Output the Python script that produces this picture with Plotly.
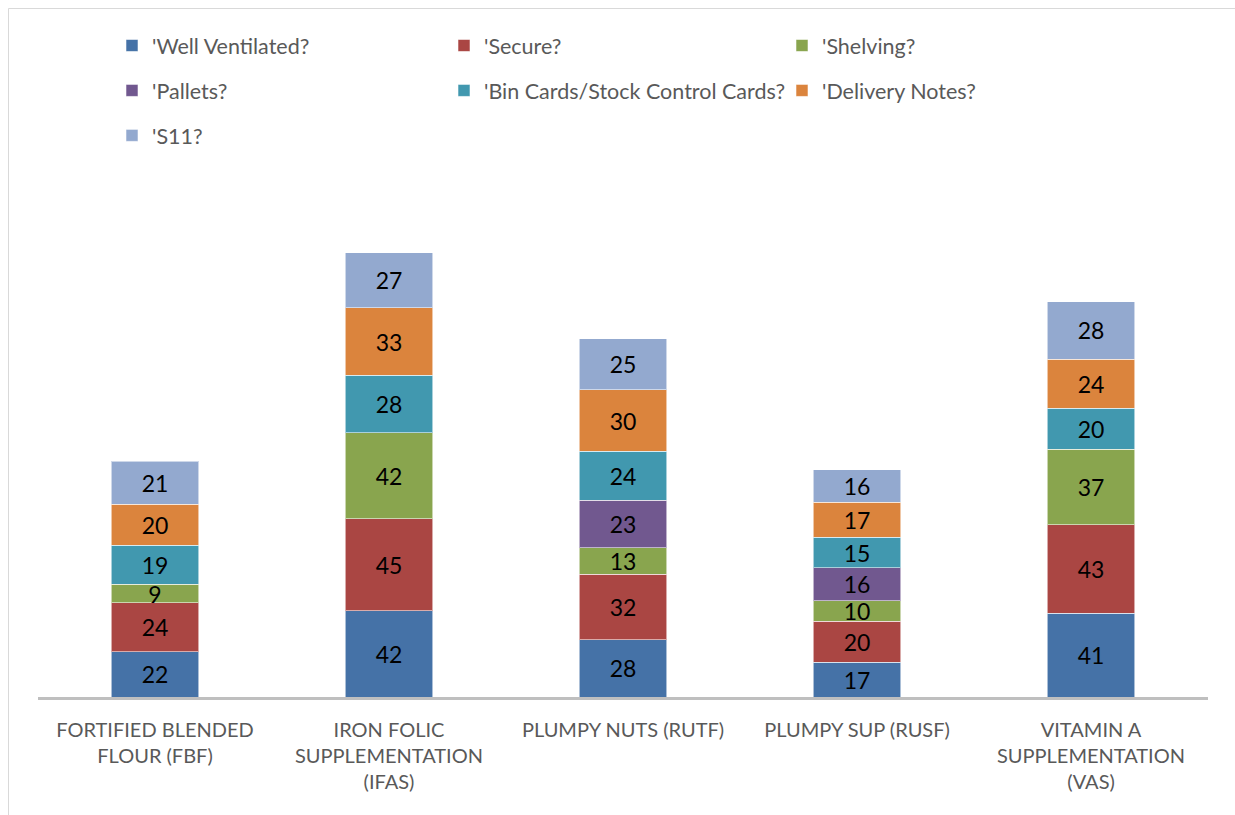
import plotly.graph_objects as go

# Store inspection results per commodity
categories = [
    "FORTIFIED BLENDED<br>FLOUR (FBF)",
    "IRON FOLIC<br>SUPPLEMENTATION<br>(IFAS)",
    "PLUMPY NUTS (RUTF)",
    "PLUMPY SUP (RUSF)",
    "VITAMIN A<br>SUPPLEMENTATION<br>(VAS)",
]

well_ventilated = [22, 42, 28, 17, 41]
secure = [24, 45, 32, 20, 43]
shelving = [9, 42, 13, 10, 37]
pallets = [None, None, 23, 16, None]
bin_cards = [19, 28, 24, 15, 20]
delivery_notes = [20, 33, 30, 17, 24]
s11 = [21, 27, 25, 16, 28]

series = [
    ("'Well Ventilated?", well_ventilated, "#4572A7", "legend"),
    ("'Secure?", secure, "#AA4643", "legend2"),
    ("'Shelving?", shelving, "#89A54E", "legend3"),
    ("'Pallets?", pallets, "#71588F", "legend"),
    ("'Bin Cards/Stock Control Cards?", bin_cards, "#4198AF", "legend2"),
    ("'Delivery Notes?", delivery_notes, "#DB843D", "legend3"),
    ("'S11?", s11, "#93A9CF", "legend"),
]

FONT = "Lato, 'Open Sans', sans-serif"
GREY = "#595959"

fig = go.Figure()
for i, (name, vals, color, leg) in enumerate(series):
    fig.add_trace(go.Bar(
        name=name,
        x=categories,
        y=vals,
        marker=dict(color=color, line=dict(color="rgba(255,255,255,0.55)", width=1)),
        text=vals,
        texttemplate="%{y}",
        textposition="inside",
        insidetextanchor="middle",
        textangle=0,
        textfont=dict(family=FONT, size=23, color="black"),
        legend=leg,
        legendgroup=f"g{i}",
    ))

leg_common = dict(
    orientation="v",
    font=dict(family=FONT, size=21.5, color=GREY),
    bgcolor="rgba(0,0,0,0)",
    tracegroupgap=14,
    xanchor="left",
    yanchor="top",
    traceorder="grouped",
)

fig.update_layout(
    width=1235,
    height=815,
    margin=dict(l=38, r=27, t=185, b=118),
    paper_bgcolor="white",
    plot_bgcolor="white",
    barmode="stack",
    bargap=0.624,
    uniformtext=dict(minsize=23, mode="show"),
    font=dict(family=FONT, color=GREY),
    legend=dict(x=(112 - 38) / 1170, y=(697 - 25) / 512, **leg_common),
    legend2=dict(x=(444 - 38) / 1170, y=(697 - 25) / 512, **leg_common),
    legend3=dict(x=(782 - 38) / 1170, y=(697 - 25) / 512, **leg_common),
    xaxis=dict(
        showline=True,
        linecolor="#BFBFBF",
        linewidth=3,
        ticks="",
        showgrid=False,
        tickfont=dict(family=FONT, size=20, color=GREY),
        ticklabelstandoff=13,
    ),
    yaxis=dict(
        range=[0, 250],
        visible=False,
        showgrid=False,
        zeroline=False,
    ),
    shapes=[dict(
        type="rect",
        xref="paper", yref="paper",
        x0=(8.5 - 38) / 1170, x1=(1245 - 38) / 1170,
        y0=(697 - 830) / 512, y1=(697 - 8.5) / 512,
        line=dict(color="#D9D9D9", width=1),
        fillcolor="rgba(0,0,0,0)",
        layer="below",
    )],
)

fig.write_html("out.html")
